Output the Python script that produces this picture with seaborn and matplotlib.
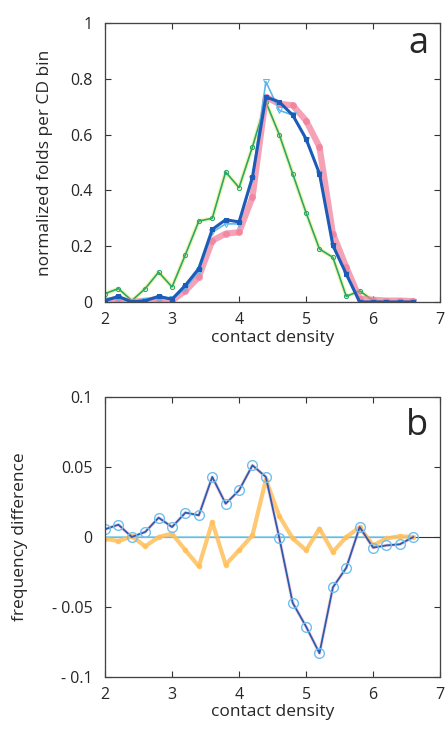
import numpy as np
import pandas as pd
import matplotlib
matplotlib.use("Agg")
import matplotlib.pyplot as plt
import seaborn as sns

# ---- data ----
cd = [2.0, 2.2, 2.4, 2.6, 2.8, 3.0, 3.2, 3.4, 3.6, 3.8, 4.0, 4.2, 4.4, 4.6,
      4.8, 5.0, 5.2, 5.4, 5.6, 5.8, 6.0, 6.2, 6.4, 6.6]

green = [0.03, 0.048, 0.005, 0.048, 0.107, 0.054, 0.17, 0.29, 0.30, 0.466, 0.41, 0.556,
         0.717, 0.60, 0.46, 0.32, 0.19, 0.16, 0.02, 0.04, 0.005, 0.0, 0.0, 0.0]
red = [0.005, 0.01, 0.0, 0.005, 0.01, 0.005, 0.04, 0.09, 0.22, 0.245, 0.25, 0.376,
       0.735, 0.71, 0.705, 0.65, 0.556, 0.245, 0.125, 0.012, 0.008, 0.005, 0.005, 0.003]
blue = [0.005, 0.02, 0.0, 0.005, 0.02, 0.01, 0.06, 0.12, 0.26, 0.295, 0.287, 0.448,
        0.735, 0.717, 0.67, 0.585, 0.46, 0.203, 0.10, 0.0, 0.0, 0.0, 0.0, 0.0]
cyan = [0.005, 0.015, 0.0, 0.005, 0.015, 0.01, 0.05, 0.11, 0.25, 0.28, 0.28, 0.44,
        0.79, 0.687, 0.67, 0.58, 0.46, 0.20, 0.10, 0.0, 0.0, 0.0, 0.0, 0.0]
zero_line = [0.0] * len(cd)

diff_blue = [0.0055, 0.0088, 0.0, 0.0036, 0.0138, 0.0071, 0.0174, 0.0155, 0.0429, 0.0238,
             0.0333, 0.0512, 0.0429, -0.0005, -0.047, -0.064, -0.083, -0.036, -0.022,
             0.0071, -0.0076, -0.006, -0.0052, 0.0]
diff_orange = [-0.0012, -0.003, 0.0005, -0.0067, 0.0, 0.0024, -0.0095, -0.021, 0.0107,
               -0.0198, -0.0095, 0.0012, 0.041, 0.015, -0.001, -0.0095, 0.006, -0.0107,
               0.0, 0.007, -0.006, -0.001, 0.0005, 0.0]

top_yticks = [0, 0.2, 0.4, 0.6, 0.8, 1]
top_yticklabels = ["0", "0.2", "0.4", "0.6", "0.8", "1"]
bot_yticks = [-0.1, -0.05, 0, 0.05, 0.1]
bot_yticklabels = ["- 0.1", "- 0.05", "0", "0.05", "0.1"]
xticks = [2, 3, 4, 5, 6, 7]

df_top = pd.DataFrame({"cd": cd, "green": green, "red": red, "blue": blue,
                       "cyan": cyan, "zero": zero_line})
df_bot = pd.DataFrame({"cd": cd, "blue": diff_blue, "orange": diff_orange,
                       "zero": zero_line})

sns.set_style("ticks")
plt.rcParams["font.family"] = ["Open Sans", "DejaVu Sans"]

fig = plt.figure(figsize=(4.45, 7.30), dpi=100)
ax1 = fig.add_axes([0.236, 0.5863, 0.753, 0.3822])
ax2 = fig.add_axes([0.236, 0.0726, 0.753, 0.3836])

# ---- top panel ----
sns.lineplot(data=df_top, x="cd", y="zero", ax=ax1, color="#7fd3f0", lw=1.0)
sns.lineplot(data=df_top, x="cd", y="green", ax=ax1, color="#e8f07a", lw=3.0, alpha=0.6)
sns.lineplot(data=df_top, x="cd", y="green", ax=ax1, color="#2aa86a", lw=1.2,
             marker="o", markersize=3, markerfacecolor="none", markeredgecolor="#2aa86a")
sns.lineplot(data=df_top, x="cd", y="red", ax=ax1, color="#f27a98", lw=4.5, alpha=0.7,
             marker="o", markersize=5, markeredgecolor="none")
sns.lineplot(data=df_top, x="cd", y="cyan", ax=ax1, color="#5ab8ea", lw=1.2,
             marker="v", markersize=5, markerfacecolor="none", markeredgecolor="#5ab8ea")
sns.lineplot(data=df_top, x="cd", y="blue", ax=ax1, color="#1c5cb8", lw=2.2,
             marker="s", markersize=3.5, markeredgecolor="#1c5cb8")

ax1.set_xlim(2, 7)
ax1.set_ylim(0, 1)
ax1.set_xticks(xticks)
ax1.set_yticks(top_yticks)
ax1.set_yticklabels(top_yticklabels)
ax1.set_xlabel("contact density", fontsize=12.5)
ax1.set_ylabel("normalized folds per CD bin", fontsize=12.5)
ax1.xaxis.set_label_coords(0.5, -0.1)
ax1.yaxis.set_label_coords(-0.155, 0.5)
ax1.text(0.965, 0.925, "a", transform=ax1.transAxes, fontsize=26, ha="right", va="center")

# ---- bottom panel ----
ax2.axhline(0, color="#333333", lw=0.8)
sns.lineplot(data=df_bot, x="cd", y="zero", ax=ax2, color="#7fd3f0", lw=1.2)
sns.lineplot(data=df_bot, x="cd", y="orange", ax=ax2, color="#ffbf5a", lw=3.0, alpha=0.85,
             marker="o", markersize=4, markeredgecolor="none")
sns.lineplot(data=df_bot, x="cd", y="blue", ax=ax2, color="#f5a0b8", lw=2.4, alpha=0.5)
sns.lineplot(data=df_bot, x="cd", y="blue", ax=ax2, color="#2a5cb0", lw=1.3,
             marker="o", markersize=7, markerfacecolor="none", markeredgecolor="#6ec0ee",
             markeredgewidth=1.0)

ax2.set_xlim(2, 7)
ax2.set_ylim(-0.1, 0.1)
ax2.set_xticks(xticks)
ax2.set_yticks(bot_yticks)
ax2.set_yticklabels(bot_yticklabels)
ax2.set_xlabel("contact density", fontsize=12.5)
ax2.set_ylabel("frequency difference", fontsize=12.5)
ax2.xaxis.set_label_coords(0.5, -0.095)
ax2.yaxis.set_label_coords(-0.229, 0.5)
ax2.text(0.965, 0.895, "b", transform=ax2.transAxes, fontsize=26, ha="right", va="center")

for ax in (ax1, ax2):
    ax.tick_params(direction="in", top=True, right=True, labelsize=11.5, length=4,
                   width=0.8, color="#333333")
    ax.tick_params(axis="y", pad=9)
    ax.tick_params(axis="x", pad=7)
    for s in ax.spines.values():
        s.set_color("#444444")
        s.set_linewidth(0.9)
        s.set_linestyle((0, (1, 0.6)))

fig.savefig("out.png", dpi=100)
